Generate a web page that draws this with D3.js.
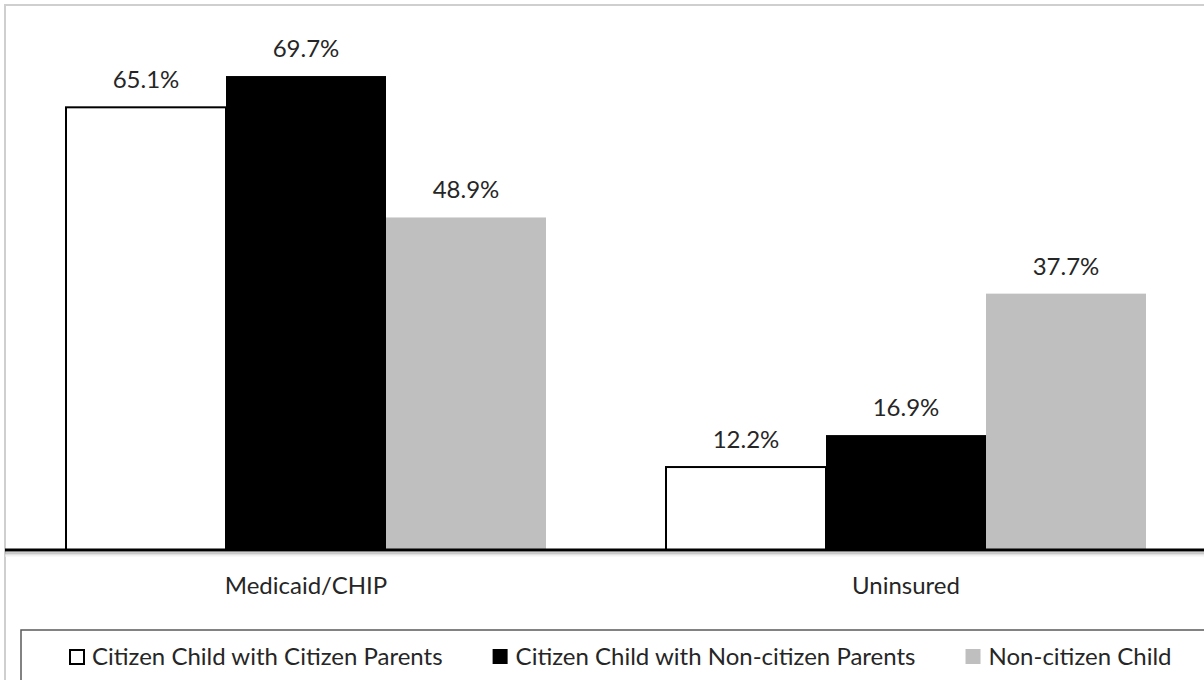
<!DOCTYPE html>
<html><head><meta charset="utf-8">
<script src="https://cdn.jsdelivr.net/npm/d3@7/dist/d3.min.js"></script>
<style>
body{margin:0;background:#fff}
svg{display:block}
text{font-family:Lato,"Open Sans",sans-serif;fill:#262626}
</style>
</head><body>
<svg id="chart" width="1204" height="680"></svg>
<script>
const categories = ["Medicaid/CHIP", "Uninsured"];
const seriesNames = ["Citizen Child with Citizen Parents", "Citizen Child with Non-citizen Parents", "Non-citizen Child"];
const citizenChildCitizenParents = [65.1, 12.2];
const citizenChildNonCitizenParents = [69.7, 16.9];
const nonCitizenChild = [48.9, 37.7];
const seriesColors = ["#ffffff", "#000000", "#bfbfbf"];
const yDomain = [0, 80];

const seriesValues = [citizenChildCitizenParents, citizenChildNonCitizenParents, nonCitizenChild];
const svg = d3.select("#chart");
const W = 1204, H = 680;
const baseY = 550, topY = 6;
const fontSize = 24;

// outer chart border
svg.append("rect").attr("x",5).attr("y",5).attr("width",W+20).attr("height",H+20)
  .attr("fill","#fff").attr("stroke","#cfcfcf").attr("stroke-width",2);

const x0 = d3.scaleBand().domain(categories).range([6, 1206]).paddingInner(0.2).paddingOuter(0.1);
const x1 = d3.scaleBand().domain(d3.range(seriesNames.length)).range([0, x0.bandwidth()]);
const y = d3.scaleLinear().domain(yDomain).range([baseY, topY]);

const groups = svg.append("g").selectAll("g").data(categories).join("g")
  .attr("transform", d => `translate(${x0(d)},0)`);

groups.each(function(cat, ci){
  const g = d3.select(this);
  seriesNames.forEach((s, si) => {
    const v = seriesValues[si][ci];
    g.append("rect")
      .attr("x", x1(si)).attr("width", x1.bandwidth())
      .attr("y", y(v)).attr("height", y(0) - y(v))
      .attr("fill", seriesColors[si])
      .attr("stroke", si === 0 ? "#000" : "none")
      .attr("stroke-width", 2);
    g.append("text")
      .attr("x", x1(si) + x1.bandwidth()/2)
      .attr("y", y(v) - 19)
      .attr("text-anchor","middle")
      .attr("font-size", fontSize)
      .text(v.toFixed(1) + "%");
  });
});

// axis
const axis = d3.axisBottom(x0).tickSize(0).tickPadding(0);
const ag = svg.append("g").attr("transform", `translate(0,${baseY})`).call(axis);
ag.select(".domain").remove();
// soft shadow below axis line
[[3,"#9a9a9a"],[4,"#c4c4c4"],[5,"#e2e2e2"],[6,"#f2f2f2"]].forEach(([dy,c]) => {
  ag.append("line").attr("x1",5).attr("x2",W+5).attr("y1",dy).attr("y2",dy)
    .attr("stroke",c).attr("stroke-width",1);
});
ag.append("line").attr("x1",5).attr("x2",W+5).attr("y1",0).attr("y2",0)
  .attr("stroke","#000").attr("stroke-width",3);
ag.selectAll(".tick text").attr("y", 44).attr("dy", 0)
  .attr("font-size", fontSize).attr("fill","#262626")
  .style("font-family","Lato, 'Open Sans', sans-serif");

// legend
const legendTop = 630;
svg.append("rect").attr("x",21).attr("y",legendTop).attr("width",W).attr("height",100)
  .attr("fill","#fff").attr("stroke","#595959").attr("stroke-width",1.5);
const lg = svg.append("g");
let lx = 69;
seriesNames.forEach((s, i) => {
  lg.append("rect").attr("x", lx + (i===0?1:0)).attr("y", 649 + (i===0?1:0))
    .attr("width", i===0?14:15).attr("height", i===0?14:15)
    .attr("fill", seriesColors[i]).attr("stroke", i===0?"#000":"none").attr("stroke-width",2);
  const t = lg.append("text").attr("x", lx + 23).attr("y", 665).attr("font-size", fontSize).text(s);
  lx += 23 + t.node().getComputedTextLength() + 50;
});
</script>
</body></html>
